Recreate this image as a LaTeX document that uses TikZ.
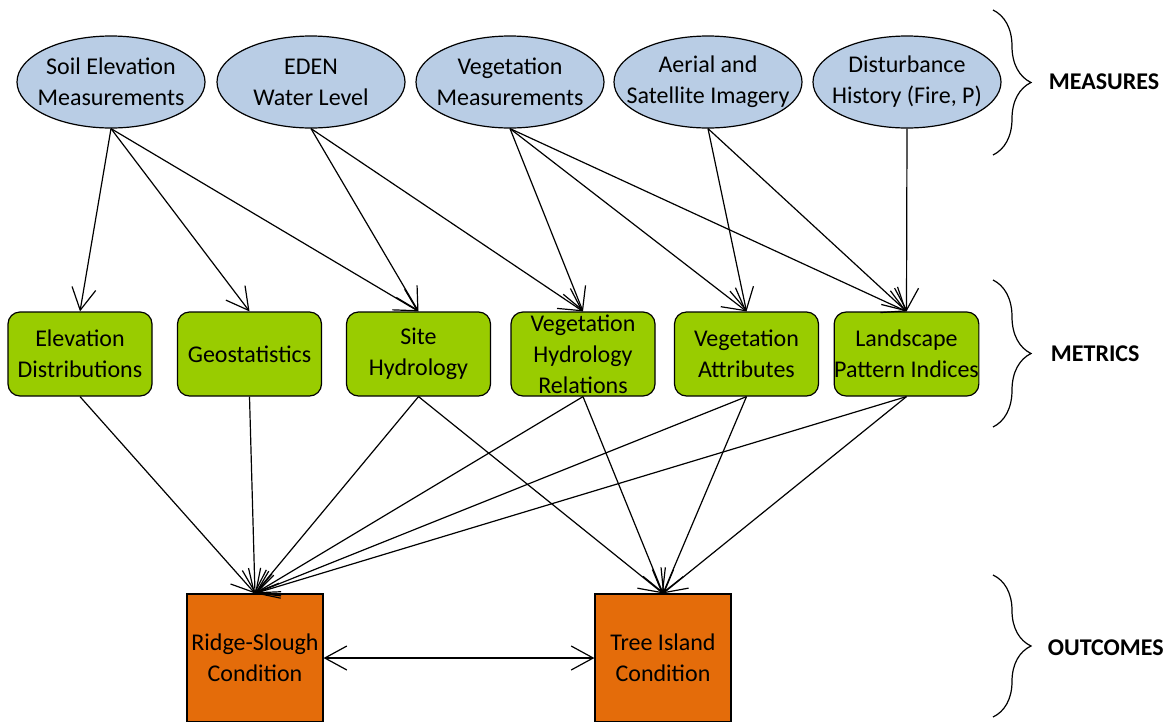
\documentclass[tikz,border=0pt]{standalone}
\usepackage{fontspec}
\setmainfont{Carlito}
\usetikzlibrary{shapes.geometric, decorations.pathreplacing, arrows.meta}
\definecolor{measfill}{RGB}{185, 205, 229}
\definecolor{metricfill}{RGB}{153, 204, 0}
\definecolor{outfill}{RGB}{228, 108, 10}

\begin{document}
\begin{tikzpicture}[x=1pt, y=-1pt, line width=1.2pt,
  every node/.style={font=\fontsize{24}{31}\selectfont, align=center},
  measure/.style={ellipse, draw, fill=measfill, minimum width=188pt, minimum height=92pt, inner sep=0pt},
  metric/.style={rectangle, rounded corners=12pt, draw, fill=metricfill, minimum width=144pt, minimum height=84pt, inner sep=0pt},
  outcome/.style={rectangle, draw, fill=outfill, minimum width=136pt, minimum height=128pt, inner sep=0pt},
  link/.style={-{Straight Barb[length=22pt, width=24pt]}},
  group/.style={decorate, decoration={brace, amplitude=38pt}},
  grouplabel/.style={anchor=west, font=\fontsize{24}{31}\selectfont\bfseries}]

  \useasboundingbox (0, 0) rectangle (1173, 721);

  % measures
  \node[measure, label={center:{Soil Elevation\\Measurements}}] (soil) at (111, 82) {};
  \node[measure, label={center:{EDEN\\Water Level}}] (eden) at (311, 82) {};
  \node[measure, label={center:{Vegetation\\Measurements}}] (veg) at (510, 82) {};
  \node[measure, label={center:{Aerial and\\Satellite Imagery}}] (aerial) at (708, 82) {};
  \node[measure, label={center:{Disturbance\\History (Fire, P)}}] (dist) at (907, 82) {};

  % metrics
  \node[metric] (elev) at (80, 354) {Elevation\\Distributions};
  \node[metric] (geo) at (249.5, 354) {Geostatistics};
  \node[metric] (site) at (418.5, 354) {Site\\Hydrology};
  \node[metric] (vhr) at (583, 354) {Vegetation\\Hydrology\\Relations};
  \node[metric] (vattr) at (746.5, 354) {Vegetation\\Attributes};
  \node[metric] (land) at (906.5, 354) {Landscape\\Pattern Indices};

  % outcomes
  \node[outcome] (rs) at (255, 658) {Ridge-Slough\\Condition};
  \node[outcome] (ti) at (663, 658) {Tree Island\\Condition};

  \foreach \src/\dst in {soil/elev, soil/geo, soil/site, eden/site, eden/vhr,
      veg/vhr, veg/vattr, veg/land, aerial/vattr, aerial/land, dist/land} {
    \draw[link] (\src.south) -- (\dst.north);
  }
  \foreach \src in {elev, geo, site, vhr, vattr, land} {
    \draw[link] (\src.south) -- (rs.north);
  }
  \foreach \src in {site, vhr, vattr, land} {
    \draw[link] (\src.south) -- (ti.north);
  }
  \draw[{Straight Barb[length=22pt, width=24pt]}-{Straight Barb[length=22pt, width=24pt]}] (rs) -- (ti);

  % groups
  \draw[group] (993, 10) -- (993, 155);
  \draw[group] (993, 280) -- (993, 427);
  \draw[group] (993, 575) -- (993, 717);
  \node[grouplabel] (measlbl) at (1045, 82) {MEASURES};
  \node[grouplabel] (metlbl) at (1047, 354) {METRICS};
  \node[grouplabel] (outlbl) at (1044, 648) {OUTCOMES};

\end{tikzpicture}
\end{document}
